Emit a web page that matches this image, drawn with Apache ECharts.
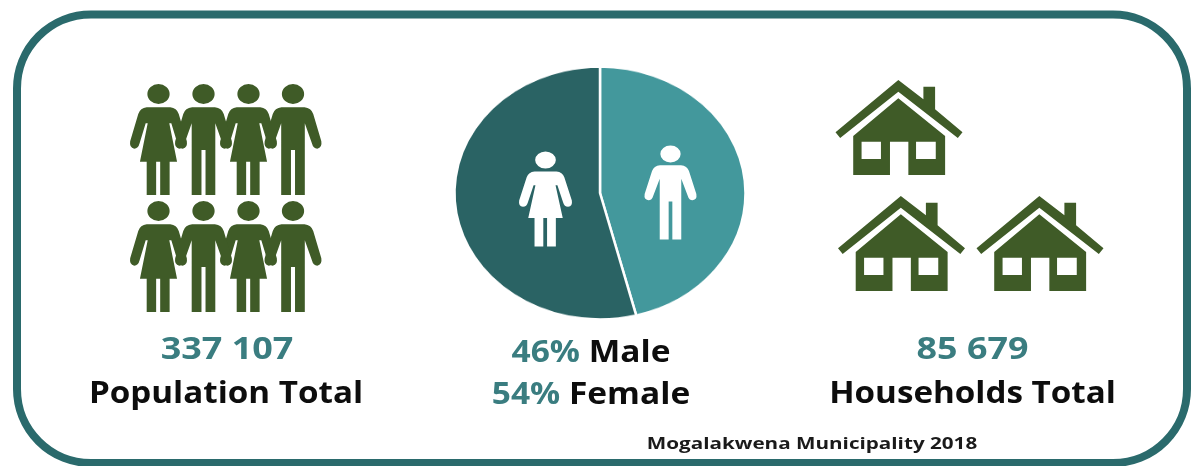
<!DOCTYPE html>
<html>
<head>
<meta charset="utf-8">
<title>Mogalakwena Municipality 2018</title>
<script src="https://cdn.jsdelivr.net/npm/echarts@6/dist/echarts.min.js"></script>
<style>
  html, body { margin: 0; padding: 0; background: #fff; }
  #stage { position: relative; width: 1192px; height: 466px; overflow: hidden; }
  #main { position: absolute; left: 0; top: 0; width: 1192px; height: 466px; }
  /* The pie is squashed vertically into an oval */
  #pie { position: absolute; left: 450px; top: 42.5px; width: 300px; height: 300px; transform: scaleY(0.868); transform-origin: 50% 50%; }
</style>
</head>
<body>
<div id="stage">
  <div id="pie"></div>
  <div id="main"></div>
</div>
<script>
// Figures shown on the card
const genderNames = ['Male', 'Female'];
const genderShares = [46, 54];
const populationTotal = '337 107';
const populationLabel = 'Population Total';
const householdsTotal = '85 679';
const householdsLabel = 'Households Total';
const sourceLabel = 'Mogalakwena Municipality 2018';

const GREEN = '#3f5b27';
const TEAL_DARK = '#2a6364';
const TEAL_LIGHT = '#43989c';
const TEAL_TEXT = '#3a7d80';
const INK = '#0d0d0d';
const FONT = '"Open Sans", Lato, sans-serif';

// Pictogram outlines
const womanPath = 'path://M-35 70 L35 70 Q54 72 60 90 L84 172 Q87 192 72 194 Q60 194 56 178 L38 118 L32 118 L55 233 L33 233 L33 333 L5 333 L5 233 L-7 233 L-7 333 L-35 333 L-35 233 L-55 233 L-32 118 L-38 118 L-56 178 Q-60 194 -72 194 Q-87 192 -84 172 L-60 90 Q-54 72 -35 70 Z M-33 30 A33 30 0 1 1 33 30 A33 30 0 1 1 -33 30 Z';
const manPath = 'path://M-34 70 L34 70 Q54 72 60 90 L84 172 Q87 192 72 194 Q60 194 56 178 L35 118 L35 333 L6 333 L6 198 L-6 198 L-6 333 L-35 333 L-35 118 L-56 178 Q-60 194 -72 194 Q-87 192 -84 172 L-60 90 Q-54 72 -34 70 Z M-33 30 A33 30 0 1 1 33 30 A33 30 0 1 1 -33 30 Z';
const housePath = 'path://M220 30 L295 88 L295 50 L330 50 L330 118 L412 187 L398 204 L220 65 L46 204 L32 187 Z M220 85 L360 198 L360 315 L250 315 L250 215 L195 215 L195 315 L85 315 L85 198 Z M110 215 L110 267 L168 267 L168 215 Z M273 215 L273 267 L332 267 L332 215 Z';

// Where each pictogram sits on the card
const womenSpots = [[158.5, 139.5], [248.5, 139.5], [158.5, 256.5], [248.5, 256.5]];
const menSpots = [[203.5, 139.5], [293, 139.5], [203.5, 256.5], [293, 256.5]];
const houseSpots = [[899, 127.5], [901.5, 243.5], [1040, 243.5]];

const pieChart = echarts.init(document.getElementById('pie'));
pieChart.setOption({
  animation: false,
  series: [{
    type: 'pie',
    center: ['50%', '50%'],
    radius: [0, 145.5],
    startAngle: 90,
    clockwise: true,
    silent: true,
    label: { show: false },
    labelLine: { show: false },
    itemStyle: { borderColor: '#fff', borderWidth: 2.5 },
    data: genderNames.map((name, i) => ({
      name,
      value: genderShares[i],
      itemStyle: { color: i === 0 ? TEAL_LIGHT : TEAL_DARK }
    }))
  }]
});

function icon(name, symbol, size, color, data) {
  return {
    name,
    type: 'scatter',
    symbol,
    symbolSize: size,
    silent: true,
    itemStyle: { color, opacity: 1 },
    data
  };
}

function caption(text, x, y, size, fill, stretch) {
  return {
    type: 'text',
    silent: true,
    x, y,
    scaleX: stretch,
    style: { text, x: 0, y: 0, fill, font: 'bold ' + size + 'px ' + FONT, align: 'center', verticalAlign: 'middle' }
  };
}

function shareCaption(i, x, y) {
  return {
    type: 'text',
    silent: true,
    x, y,
    scaleX: 1.08,
    style: {
      x: 0, y: 0,
      text: '{pct|' + genderShares[i] + '% }{name|' + genderNames[i] + '}',
      align: 'center',
      verticalAlign: 'middle',
      rich: {
        pct: { fill: TEAL_TEXT, font: 'bold 31px ' + FONT },
        name: { fill: INK, font: 'bold 31px ' + FONT }
      }
    }
  };
}

const chart = echarts.init(document.getElementById('main'));
chart.setOption({
  animation: false,
  backgroundColor: 'transparent',
  grid: { left: 0, right: 0, top: 0, bottom: 0 },
  xAxis: { type: 'value', min: 0, max: 1192, show: false },
  yAxis: { type: 'value', min: 0, max: 466, inverse: true, show: false },
  series: [
    icon('Women', womanPath, [57, 111], GREEN, womenSpots),
    icon('Men', manPath, [57, 111], GREEN, menSpots),
    icon('Households', housePath, [127, 95], GREEN, houseSpots),
    icon('Female', womanPath, [53, 95], '#fff', [[545.5, 199]]),
    icon('Male', manPath, [52, 94], '#fff', [[670.5, 192.5]])
  ],
  graphic: [
    {
      type: 'rect',
      silent: true,
      shape: { x: 17, y: 14.5, width: 1170, height: 448.5, r: 74 },
      style: { fill: 'none', stroke: '#2a6a6c', lineWidth: 8 }
    },
    caption(populationTotal, 227, 350, 31, TEAL_TEXT, 1.16),
    caption(populationLabel, 226, 394, 31, INK, 1.07),
    shareCaption(0, 591, 353),
    shareCaption(1, 591, 395),
    caption(householdsTotal, 972.5, 350, 31, TEAL_TEXT, 1.156),
    caption(householdsLabel, 972.5, 394, 31, INK, 1.07),
    caption(sourceLabel, 812, 444, 16, '#1a1a1a', 1.29)
  ]
});
</script>
</body>
</html>
